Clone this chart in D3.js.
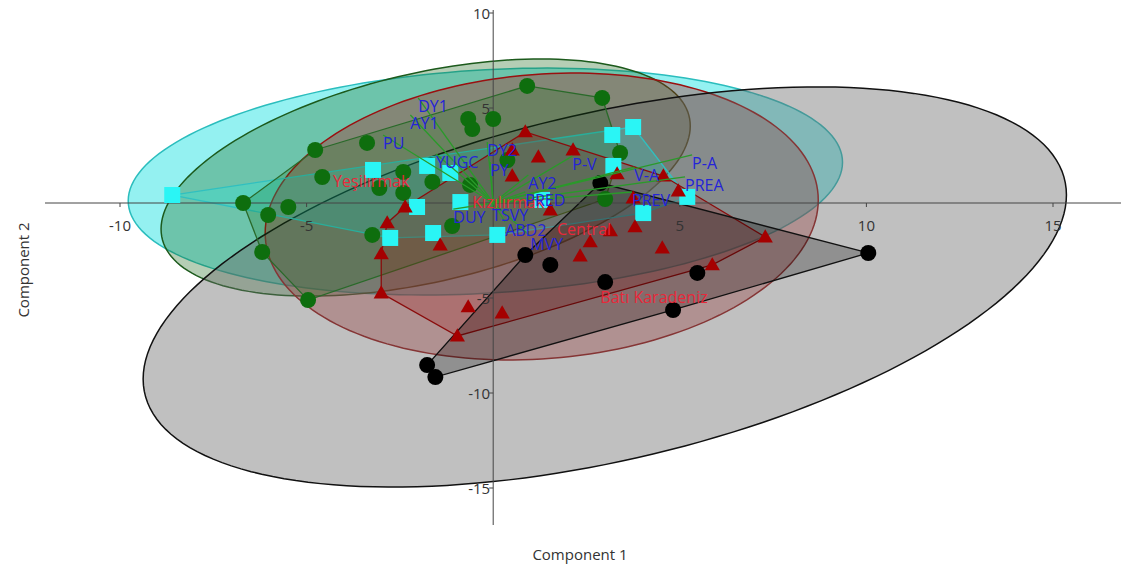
<!DOCTYPE html>
<html><head><meta charset="utf-8">
<script src="https://cdn.jsdelivr.net/npm/d3@7"></script>
<style>body{margin:0;background:#fff}svg{display:block}text{font-family:"Open Sans","Segoe UI",sans-serif}</style>
</head><body><svg id="c" width="1121" height="580"></svg>
<script>
// ---- data (PCA scores, component 1 / component 2) ----
const greenPts = [[0.91,6.16],[2.92,5.53],[-0.67,4.42],[-0.56,3.89],[0.00,4.42],[-4.77,2.79],[-3.38,3.16],[-4.58,1.37],[-6.70,0.00],[-6.03,-0.63],[-5.49,-0.21],[-6.19,-2.58],[-4.96,-5.11],[-3.05,0.79],[-3.24,-1.68],[-2.41,1.63],[-2.41,0.53],[-1.63,1.11],[-1.10,-1.21],[3.40,2.63],[3.00,0.21],[0.38,2.26],[-0.62,0.95]];
const cyanPts = [[-8.60,0.42],[-3.22,1.74],[-1.77,1.95],[-1.15,1.58],[-0.88,0.05],[-2.04,-0.21],[-2.76,-1.84],[-1.61,-1.58],[0.11,-1.68],[3.19,3.58],[3.75,4.00],[3.22,1.95],[4.02,-0.53],[5.20,0.32],[1.31,0.16]];
const redPts = [[0.86,3.74],[2.14,2.79],[1.21,2.42],[0.51,2.79],[0.51,1.42],[3.32,1.53],[4.56,1.42],[4.96,0.63],[3.75,0.26],[-2.36,-0.21],[-2.84,-1.05],[-3.00,-2.68],[-1.42,-2.21],[-3.00,-4.74],[-0.67,-5.47],[0.24,-5.79],[-0.96,-7.00],[1.53,-0.37],[2.33,-2.79],[2.60,-2.05],[3.14,-1.47],[3.80,-1.26],[4.53,-2.37],[7.29,-1.79],[5.87,-3.26]];
const blackPts = [[2.87,1.05],[0.86,-2.74],[1.53,-3.26],[3.00,-4.16],[5.47,-3.68],[10.05,-2.63],[4.82,-5.63],[-1.77,-8.53],[-1.55,-9.16]];
// 95% ellipses: centre x, centre y, half-width, half-height, correlation
const ellGray  = [2.99,-4.42,12.37,10.53,0.46];
const ellRed   = [1.30,-0.71,7.41,7.55,0.115];
const ellGreen = [-1.81,1.34,7.09,6.24,0.435];
const ellCyan  = [-0.21,1.13,9.57,5.97,0.17];
// loadings (biplot vectors)
const loadNames = ["DY1","AY1","PU","YUGC","DY2","PY","AY2","PRED","P-V","V-A","P-A","PREA","PREV","DUY","TSVY","ABD2","MVY"];
const loadX = [-2.01,-2.22,-2.95,-1.53,-0.16,-0.08,0.94,0.86,2.12,3.78,5.33,5.14,3.72,-1.07,-0.03,0.32,0.99];
const loadY = [5.53,4.63,3.58,2.58,3.21,2.16,1.47,0.58,2.47,1.89,2.53,1.37,0.58,-0.32,-0.21,-1.00,-1.74];
// group labels
const groupNames = ["Yeşilırmak","Kızılırmak","Central","Batı Karadeniz"];
const groupLX = [-4.29,-0.56,1.71,2.87];
const groupLY = [1.11,0.00,-1.42,-5.00];
const xTicks = [-10,-5,5,10,15];
const yTicks = [10,5,-5,-10,-15];

const svg = d3.select("#c");
const x = d3.scaleLinear().domain([-10,15]).range([120,1053]);
const y = d3.scaleLinear().domain([-15,10]).range([488,13]);

function ellPath(e){
  const [cx,cy,W,H,r]=e, q=Math.sqrt(1-r*r), pts=[];
  for(let i=0;i<=180;i++){const t=i/180*2*Math.PI;pts.push([x(cx+W*Math.cos(t)),y(cy+H*(r*Math.cos(t)+q*Math.sin(t)))]);}
  return d3.line()(pts)+"Z";
}
// ellipses
svg.append("path").attr("d",ellPath(ellCyan)).attr("fill","#00dede").attr("fill-opacity",0.42).attr("stroke","#2bbdbd").attr("stroke-width",1.5);
svg.append("path").attr("d",ellPath(ellGreen)).attr("fill","#1f6a1f").attr("fill-opacity",0.33).attr("stroke","#1c5a1c").attr("stroke-width",1.5);
svg.append("path").attr("d",ellPath(ellRed)).attr("fill","#b01818").attr("fill-opacity",0.35).attr("stroke","#9a1010").attr("stroke-width",1.5);
svg.append("path").attr("d",ellPath(ellGray)).attr("fill","#6a6a6a").attr("fill-opacity",0.42).attr("stroke","#111").attr("stroke-width",1.5);

// convex hulls
function hull(pts,fill,op,stroke){
  const h=d3.polygonHull(pts.map(p=>[x(p[0]),y(p[1])]));
  svg.append("path").attr("d","M"+h.join("L")+"Z").attr("fill",fill).attr("fill-opacity",op).attr("stroke",stroke).attr("stroke-width",1.3);
}
hull(cyanPts,"#00ffff",0.2,"#30c0c0");
hull(greenPts,"#0a6a0a",0.2,"#2a6a2a");
hull(redPts,"#a00000",0.22,"#8a0c0c");
hull(blackPts,"#000",0.25,"#111");

// axes
svg.append("line").attr("x1",45).attr("x2",1121).attr("y1",y(0)).attr("y2",y(0)).attr("stroke","#444").attr("stroke-width",1);
svg.append("line").attr("x1",x(0)).attr("x2",x(0)).attr("y1",10).attr("y2",525).attr("stroke","#444").attr("stroke-width",1);
xTicks.forEach(t=>{
  svg.append("line").attr("x1",x(t)).attr("x2",x(t)).attr("y1",y(0)).attr("y2",y(0)+4).attr("stroke","#444");
  svg.append("text").attr("x",x(t)).attr("y",y(0)+28).attr("text-anchor","middle").attr("font-size",15).attr("fill","#333").text(t);
});
yTicks.forEach(t=>{
  svg.append("line").attr("x1",x(0)-4).attr("x2",x(0)).attr("y1",y(t)).attr("y2",y(t)).attr("stroke","#444");
  svg.append("text").attr("x",x(0)-3).attr("y",y(t)+6).attr("text-anchor","end").attr("font-size",15).attr("fill","#333").text(t);
});
svg.append("text").attr("x",580).attr("y",560).attr("text-anchor","middle").attr("font-size",15).attr("fill","#333").text("Component 1");
svg.append("text").attr("transform","translate(29,270) rotate(-90)").attr("text-anchor","middle").attr("font-size",15).attr("fill","#333").text("Component 2");

// points
const g=svg.append("g");
g.selectAll(".gc").data(greenPts).join("circle").attr("cx",d=>x(d[0])).attr("cy",d=>y(d[1])).attr("r",8).attr("fill","#0e6e0e");
g.selectAll(".cs").data(cyanPts).join("rect").attr("x",d=>x(d[0])-8).attr("y",d=>y(d[1])-8).attr("width",16).attr("height",16).attr("fill","#2af5f5");
const tri=d3.symbol().type(d3.symbolTriangle).size(100);
g.selectAll(".rt").data(redPts).join("path").attr("d",tri).attr("transform",d=>`translate(${x(d[0])},${y(d[1])+1})`).attr("fill","#a50000");
g.selectAll(".bc").data(blackPts).join("circle").attr("cx",d=>x(d[0])).attr("cy",d=>y(d[1])).attr("r",8).attr("fill","#000");

// loadings
loadNames.forEach((n,i)=>{
  svg.append("line").attr("x1",x(0)).attr("y1",y(0)).attr("x2",x(loadX[i])).attr("y2",y(loadY[i])).attr("stroke","#2a9a2a").attr("stroke-width",1.3);
});
// group labels
groupNames.forEach((n,i)=>{
  svg.append("text").attr("x",x(groupLX[i])).attr("y",y(groupLY[i])+5).attr("font-size",16).attr("fill","#e8283a").text(n);
});
loadNames.forEach((n,i)=>{
  svg.append("text").attr("x",x(loadX[i])).attr("y",y(loadY[i])+14).attr("font-size",16).attr("fill","#2424d8").text(n);
});
</script></body></html>
